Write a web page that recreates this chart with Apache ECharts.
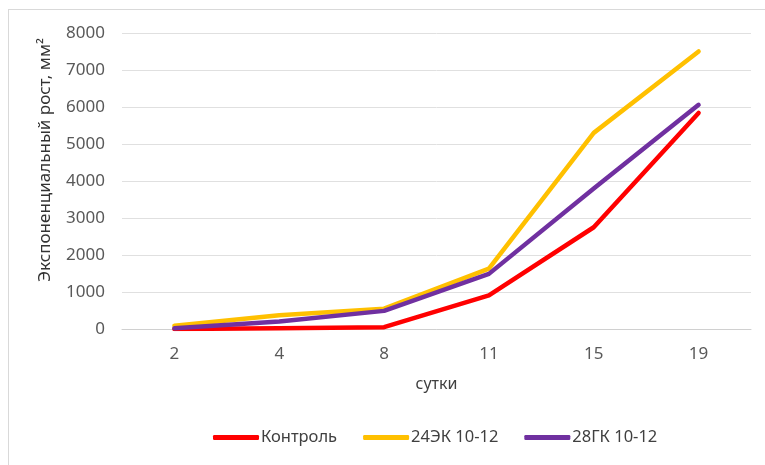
<!DOCTYPE html>
<html>
<head>
<meta charset="utf-8">
<script src="https://cdn.jsdelivr.net/npm/echarts@6/dist/echarts.min.js"></script>
<style>
  html, body { margin: 0; padding: 0; background: #fff; }
  #frame { position: absolute; left: 8px; top: 9px; width: 770px; height: 470px; border: 1px solid #d9d9d9; box-sizing: border-box; }
  #chart { width: 765px; height: 465px; position: absolute; left: 0; top: 0; }
</style>
</head>
<body>
<div id="frame"></div>
<div id="chart"></div>
<script>
// сутки
var days = ['2', '4', '8', '11', '15', '19']
var control = [0, 20, 50, 910, 2750, 5840]
var ek24 = [90, 370, 550, 1630, 5300, 7500]
var gk28 = [20, 200, 490, 1490, 3800, 6060]

var fontFamily = '"Noto Sans", "Open Sans", sans-serif'
var chart = echarts.init(document.getElementById('chart'))

function line(name, data, color) {
  return {
    name: name,
    type: 'line',
    data: data,
    symbol: 'none',
    lineStyle: { width: 4.5, color: color, cap: 'round', join: 'round' },
    itemStyle: { color: color }
  }
}

chart.setOption({
  backgroundColor: 'transparent',
  animation: false,
  textStyle: { fontFamily: fontFamily },
  grid: { left: 122, right: 14, top: 33, bottom: 136 },
  legend: {
    bottom: 14,
    left: 208,
    itemWidth: 46,
    itemHeight: 5,
    itemGap: 26,
    icon: 'roundRect',
    textStyle: { fontSize: 16.5, color: '#404040', padding: [0, 0, 0, -3] },
    data: ['Контроль', '24ЭК 10-12', '28ГК 10-12']
  },
  xAxis: {
    type: 'category',
    data: days,
    boundaryGap: true,
    name: 'сутки',
    nameLocation: 'middle',
    nameGap: 47,
    nameTextStyle: { fontSize: 16, color: '#404040' },
    axisLine: { lineStyle: { color: '#d0d0d0', width: 1 } },
    axisTick: { show: false },
    axisLabel: { fontSize: 17, color: '#595959', margin: 17 }
  },
  yAxis: {
    type: 'value',
    min: 0,
    max: 8000,
    interval: 1000,
    name: 'Экспоненциальный рост, мм²',
    nameLocation: 'middle',
    nameGap: 68,
    nameTextStyle: { fontSize: 17, color: '#333', padding: [0, 0, 0, 42] },
    axisLine: { show: false },
    axisTick: { show: false },
    axisLabel: { fontSize: 17, color: '#595959', margin: 17, formatter: function (v) { return String(v) } },
    splitLine: { lineStyle: { color: '#e0e0e0', width: 1 } }
  },
  series: [
    line('Контроль', control, '#ff0000'),
    line('24ЭК 10-12', ek24, '#ffc000'),
    line('28ГК 10-12', gk28, '#7030a0')
  ]
})
</script>
</body>
</html>
